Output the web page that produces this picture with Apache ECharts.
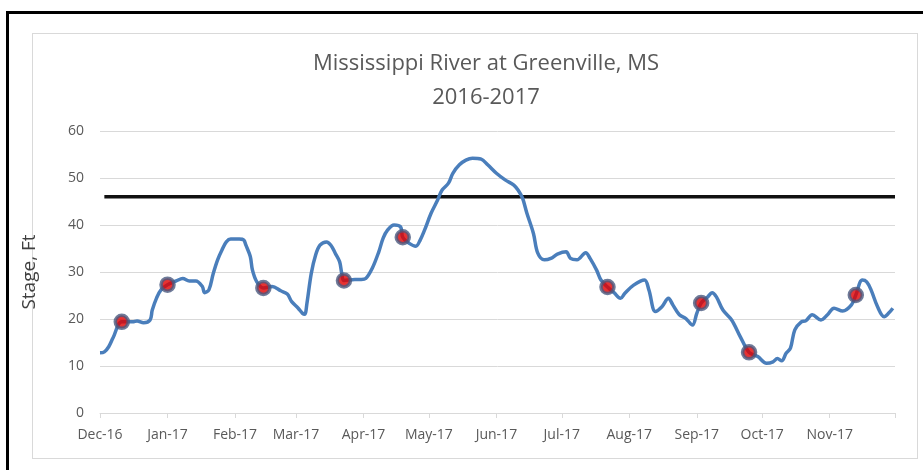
<!DOCTYPE html>
<html>
<head>
<meta charset="utf-8">
<script src="https://cdn.jsdelivr.net/npm/echarts@6/dist/echarts.min.js"></script>
<style>
  html, body { margin: 0; padding: 0; background: #fff; width: 923px; height: 470px; overflow: hidden; }
  #frame { position: absolute; left: 6px; top: 11px; width: 930px; height: 480px; border-left: 3px solid #000; border-top: 3px solid #000; }
  #box { position: absolute; left: 32px; top: 33px; width: 884px; height: 424px; border: 1px solid #d9d9d9; }
  #main { position: absolute; left: 0; top: 0; width: 923px; height: 470px; }
</style>
</head>
<body>
<div id="frame"></div>
<div id="box"></div>
<div id="main"></div>
<script>
// River stage readings (ft)
const dates = [
  "2016-12-01","2016-12-03","2016-12-05","2016-12-07","2016-12-11","2016-12-16","2016-12-18","2016-12-21","2016-12-24","2016-12-25",
  "2016-12-27","2016-12-29","2017-01-01","2017-01-05","2017-01-08","2017-01-11","2017-01-14","2017-01-17","2017-01-18","2017-01-20",
  "2017-01-22","2017-01-24","2017-01-26","2017-01-28","2017-01-30","2017-02-03","2017-02-05","2017-02-06","2017-02-08","2017-02-09",
  "2017-02-11","2017-02-14","2017-02-18","2017-02-22","2017-02-25","2017-02-27","2017-03-02","2017-03-04","2017-03-05","2017-03-06",
  "2017-03-08","2017-03-10","2017-03-12","2017-03-15","2017-03-17","2017-03-19","2017-03-21","2017-03-22","2017-03-23","2017-03-28",
  "2017-03-31","2017-04-02","2017-04-05","2017-04-08","2017-04-10","2017-04-12","2017-04-15","2017-04-18","2017-04-19","2017-04-22",
  "2017-04-25","2017-04-27","2017-04-29","2017-05-02","2017-05-05","2017-05-07","2017-05-10","2017-05-12","2017-05-15","2017-05-18",
  "2017-05-21","2017-05-25","2017-05-28","2017-06-01","2017-06-05","2017-06-09","2017-06-11","2017-06-13","2017-06-15","2017-06-18",
  "2017-06-20","2017-06-23","2017-06-26","2017-06-29","2017-07-03","2017-07-05","2017-07-08","2017-07-12","2017-07-14","2017-07-17",
  "2017-07-19","2017-07-22","2017-07-25","2017-07-28","2017-07-30","2017-08-03","2017-08-08","2017-08-10","2017-08-13","2017-08-16",
  "2017-08-19","2017-08-21","2017-08-24","2017-08-27","2017-08-30","2017-09-01","2017-09-03","2017-09-06","2017-09-08","2017-09-10",
  "2017-09-13","2017-09-17","2017-09-21","2017-09-25","2017-09-29","2017-10-03","2017-10-06","2017-10-08","2017-10-10","2017-10-12",
  "2017-10-14","2017-10-16","2017-10-19","2017-10-21","2017-10-24","2017-10-28","2017-10-31","2017-11-03","2017-11-07","2017-11-11",
  "2017-11-13","2017-11-16","2017-11-18","2017-11-20","2017-11-23","2017-11-26","2017-11-28","2017-11-30"
];
const stages = [
  12.8,13.0,14.1,16.0,19.4,19.4,19.6,19.2,19.8,21.9,
  24.5,26.2,27.3,28.1,28.6,28.1,28.1,26.9,25.6,26.2,
  29.7,32.6,34.7,36.4,37.0,37.0,36.8,35.7,33.3,30.4,
  27.9,26.6,26.9,26.0,25.3,23.7,22.3,21.2,21.0,23.3,
  29.7,33.6,35.7,36.4,35.7,34.0,32.2,29.7,28.2,28.4,
  28.4,28.6,30.8,34.3,37.2,38.9,40.0,39.6,37.4,36.1,
  35.5,36.8,38.9,42.5,45.3,47.4,48.9,51.0,52.8,53.8,
  54.2,54.0,52.8,51.0,49.6,48.5,47.4,45.7,42.5,38.2,
  34.0,32.6,32.9,33.8,34.3,32.9,32.6,34.1,32.9,30.4,
  28.3,26.8,25.6,24.4,25.5,27.2,28.3,26.2,21.6,22.6,
  24.4,23.0,20.9,20.1,18.7,21.2,23.4,24.7,25.6,24.7,
  21.9,19.8,16.2,12.9,12.0,10.6,10.9,11.6,11.1,12.7,
  13.8,17.7,19.4,19.6,20.9,19.8,20.9,22.3,21.7,23.0,
  25.1,28.3,27.9,26.2,22.6,20.5,21.2,22.3
];
// Highlighted readings
const markerDates = ["2016-12-11","2017-01-01","2017-02-14","2017-03-23","2017-04-19","2017-07-22","2017-09-03","2017-09-25","2017-11-13"];
const markerStages = [19.4, 27.3, 26.6, 28.2, 37.4, 26.8, 23.4, 12.9, 25.1];
// Flood-stage reference line
const floodDates = ["2016-12-03", "2017-12-01"];
const floodStages = [46, 46];
// Axis ticks
const tickDates = ["2016-12-01","2017-01-01","2017-02-01","2017-03-01","2017-04-01","2017-05-01","2017-06-01","2017-07-01","2017-08-01","2017-09-01","2017-10-01","2017-11-01","2017-12-01"];
const tickLabels = ["Dec-16","Jan-17","Feb-17","Mar-17","Apr-17","May-17","Jun-17","Jul-17","Aug-17","Sep-17","Oct-17","Nov-17"];
const yTicks = [0, 10, 20, 30, 40, 50, 60];

// days since the first tick date
const t0 = new Date(tickDates[0] + "T00:00:00Z").getTime();
const day = d => Math.round((new Date(d + "T00:00:00Z").getTime() - t0) / 86400000);
const tickDays = tickDates.map(day);
const labelDays = tickDays.slice(0, tickLabels.length);

const chart = echarts.init(document.getElementById('main'), null, { renderer: 'canvas' });
const FONT = '"Open Sans", "Noto Sans", sans-serif';
chart.setOption({
  animation: false,
  backgroundColor: 'transparent',
  title: {
    text: 'Mississippi River at Greenville, MS\n2016-2017',
    left: 486,
    textAlign: 'center',
    top: 47,
    padding: 0,
    textStyle: { fontFamily: FONT, fontSize: 22, fontWeight: 'normal', color: '#595959', lineHeight: 34 }
  },
  grid: { left: 100, right: 28, top: 131, bottom: 57 },
  xAxis: {
    type: 'value',
    min: tickDays[0],
    max: tickDays[tickDays.length - 1],
    axisLine: { show: true, onZero: false, lineStyle: { color: '#d9d9d9', width: 1 } },
    axisTick: { show: true, length: 5, lineStyle: { color: '#d9d9d9' }, customValues: tickDays },
    axisLabel: {
      customValues: labelDays,
      margin: 15,
      fontFamily: FONT, fontSize: 14, color: '#595959',
      formatter: function (v) {
        const i = labelDays.indexOf(Math.round(v));
        return i >= 0 ? tickLabels[i] : '';
      }
    },
    splitLine: { show: false }
  },
  yAxis: {
    type: 'value',
    min: yTicks[0],
    max: yTicks[yTicks.length - 1],
    interval: 10,
    name: 'Stage, Ft',
    nameLocation: 'middle',
    nameGap: 61,
    nameRotate: 90,
    nameTextStyle: { fontFamily: FONT, fontSize: 19, color: '#404040' },
    axisLine: { show: false },
    axisTick: { show: false },
    axisLabel: { margin: 16, fontFamily: FONT, fontSize: 14, color: '#595959' },
    splitLine: { show: true, lineStyle: { color: '#d9d9d9', width: 1 } }
  },
  series: [
    {
      type: 'line',
      data: floodDates.map((d, i) => [day(d), floodStages[i]]),
      symbol: 'none',
      lineStyle: { color: '#111111', width: 3.5 },
      z: 2
    },
    {
      type: 'line',
      data: dates.map((d, i) => [day(d), stages[i]]),
      symbol: 'none',
      smooth: 0.35,
      lineStyle: { color: '#4A7EBB', width: 3.5 },
      z: 3
    },
    {
      type: 'scatter',
      data: markerDates.map((d, i) => [day(d), markerStages[i]]),
      symbol: 'circle',
      symbolSize: 13,
      itemStyle: { color: '#E00000', borderColor: '#4A5A80', borderWidth: 3.5 },
      z: 4
    }
  ]
});
</script>
</body>
</html>
